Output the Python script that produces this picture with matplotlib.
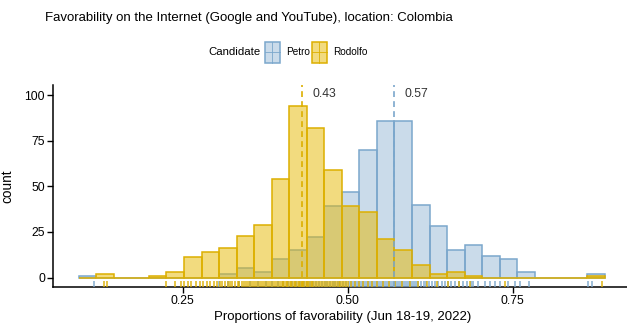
import numpy as np
import matplotlib
matplotlib.use('Agg')
import matplotlib.pyplot as plt
from matplotlib.patches import Rectangle
from matplotlib.lines import Line2D

plt.rcParams['font.family'] = ['Liberation Sans', 'DejaVu Sans']

# 30 bins shared by both candidates
bin_start = 0.0925
bin_width = 0.02657

candidates = ['Petro', 'Rodolfo']
petro_counts = [1, 0, 0, 0, 0, 0, 0, 0, 2, 5,
                3, 10, 15, 22, 39, 47, 70, 86, 86, 40,
                28, 15, 18, 12, 10, 3, 0, 0, 0, 2]
rodolfo_counts = [0, 2, 0, 0, 1, 3, 11, 14, 16, 23,
                  29, 54, 94, 82, 59, 39, 36, 21, 15, 7,
                  2, 3, 1, 0, 0, 0, 0, 0, 0, 1]
mean_values = [0.57, 0.43]
label_y = 100.5

# individual observations shown as a rug under the bars
petro_rug = [0.116, 0.305, 0.318, 0.336, 0.352, 0.364, 0.376, 0.385, 0.394, 0.402,
             0.409, 0.415, 0.421, 0.427, 0.433, 0.438, 0.443, 0.448, 0.452, 0.457,
             0.461, 0.465, 0.469, 0.473, 0.477, 0.481, 0.485, 0.489, 0.493, 0.497,
             0.502, 0.505, 0.508, 0.511, 0.514, 0.517, 0.520, 0.523, 0.526, 0.529,
             0.532, 0.535, 0.538, 0.541, 0.544, 0.547, 0.550, 0.553, 0.556, 0.559,
             0.562, 0.565, 0.568, 0.571, 0.574, 0.577, 0.580, 0.583, 0.586, 0.589,
             0.592, 0.595, 0.598, 0.601, 0.604, 0.607, 0.611, 0.615, 0.619, 0.623,
             0.627, 0.632, 0.637, 0.642, 0.647, 0.652, 0.657, 0.662, 0.668, 0.674,
             0.680, 0.686, 0.690, 0.697, 0.708, 0.716, 0.723, 0.731, 0.743, 0.754,
             0.761, 0.775, 0.864, 0.870]
rodolfo_rug = [0.131, 0.136, 0.224, 0.239, 0.247, 0.252, 0.258, 0.263, 0.270, 0.276,
               0.281, 0.287, 0.292, 0.297, 0.302, 0.306, 0.310, 0.314, 0.318, 0.321,
               0.325, 0.329, 0.333, 0.336, 0.340, 0.343, 0.346, 0.349, 0.352, 0.355,
               0.358, 0.361, 0.364, 0.367, 0.370, 0.373, 0.376, 0.379, 0.382, 0.385,
               0.388, 0.391, 0.394, 0.397, 0.400, 0.402, 0.404, 0.406, 0.408, 0.410,
               0.412, 0.414, 0.416, 0.418, 0.420, 0.422, 0.424, 0.426, 0.428, 0.430,
               0.432, 0.434, 0.436, 0.438, 0.440, 0.442, 0.444, 0.446, 0.448, 0.450,
               0.453, 0.456, 0.459, 0.462, 0.465, 0.468, 0.471, 0.474, 0.477, 0.480,
               0.483, 0.486, 0.489, 0.492, 0.495, 0.498, 0.500, 0.505, 0.511, 0.517,
               0.523, 0.530, 0.537, 0.545, 0.553, 0.562, 0.571, 0.582, 0.594, 0.606,
               0.620, 0.635, 0.652, 0.668, 0.685, 0.738, 0.885]

edge_colors = {'Petro': '#7BA7CC', 'Rodolfo': '#DDAF00'}
fill_colors = {'Petro': (0.482, 0.655, 0.8, 0.4), 'Rodolfo': (0.906, 0.722, 0.0, 0.5)}

W, H = 627, 326
fig = plt.figure(figsize=(W / 100, H / 100), dpi=100)
ax = fig.add_axes([53.3 / W, 1 - 286.7 / H, 577.7 / W, 201.7 / H])

edges = bin_start + bin_width * np.arange(len(petro_counts))
series = {'Petro': petro_counts, 'Rodolfo': rodolfo_counts}
rugs = {'Petro': petro_rug, 'Rodolfo': rodolfo_rug}

for name in candidates:
    ax.bar(edges, series[name], width=bin_width, align='edge',
           facecolor=fill_colors[name], edgecolor=edge_colors[name],
           linewidth=1.1, zorder=2)

for name in candidates:
    ax.vlines(rugs[name], 0, 0.03, transform=ax.get_xaxis_transform(),
              color=edge_colors[name], linewidth=1.2, alpha=0.85, zorder=3)

for name, m in zip(candidates, mean_values):
    ax.axvline(m, color=edge_colors[name], linestyle=(0, (3.5, 2.5)),
               linewidth=1.2, zorder=4)
    ax.text(m + 0.016, label_y, f'{m:.2f}', ha='left', va='center',
            fontsize=8.8, color='#333333', zorder=5)

ax.set_xlim(0.054, 0.929)
ax.set_ylim(-5.0, 105.5)
ax.set_xticks([0.25, 0.50, 0.75])
ax.set_xticklabels(['0.25', '0.50', '0.75'])
ax.set_yticks([0, 25, 50, 75, 100])
ax.tick_params(axis='both', length=4, width=1.0, colors='black', labelsize=8.8, pad=2)
for side in ['top', 'right']:
    ax.spines[side].set_visible(False)
for side in ['left', 'bottom']:
    ax.spines[side].set_linewidth(1.1)
ax.set_xlabel('Proportions of favorability (Jun 18-19, 2022)', fontsize=9.5, labelpad=3)
ax.set_ylabel('count', fontsize=9.8, labelpad=7)

fig.text(45 / W, 1 - 18 / H, 'Favorability on the Internet (Google and YouTube), location: Colombia',
         ha='left', va='center', fontsize=9.5)

# legend row on top
def px(x, y):
    return x / W, 1 - y / H

fig.text(*px(208, 52), 'Candidate', ha='left', va='center', fontsize=8.2)
key_x = {'Petro': 264.5, 'Rodolfo': 311.5}
lab_x = {'Petro': 286, 'Rodolfo': 333}
for name in candidates:
    x0, y0 = px(key_x[name], 62.5)
    fig.add_artist(Rectangle((x0, y0), 15.5 / W, 21 / H, transform=fig.transFigure,
                             facecolor=fill_colors[name], edgecolor=edge_colors[name], linewidth=1.1))
    xc = x0 + 7.75 / W
    yc = y0 + 10.5 / H
    fig.add_artist(Line2D([xc, xc], [y0, y0 + 21 / H], transform=fig.transFigure,
                          color=edge_colors[name], linewidth=0.6))
    fig.add_artist(Line2D([x0, x0 + 15.5 / W], [yc, yc], transform=fig.transFigure,
                          color=edge_colors[name], linewidth=0.6))
    fig.text(*px(lab_x[name], 52), name, ha='left', va='center', fontsize=7.2)

fig.savefig('out.png', dpi=100)
